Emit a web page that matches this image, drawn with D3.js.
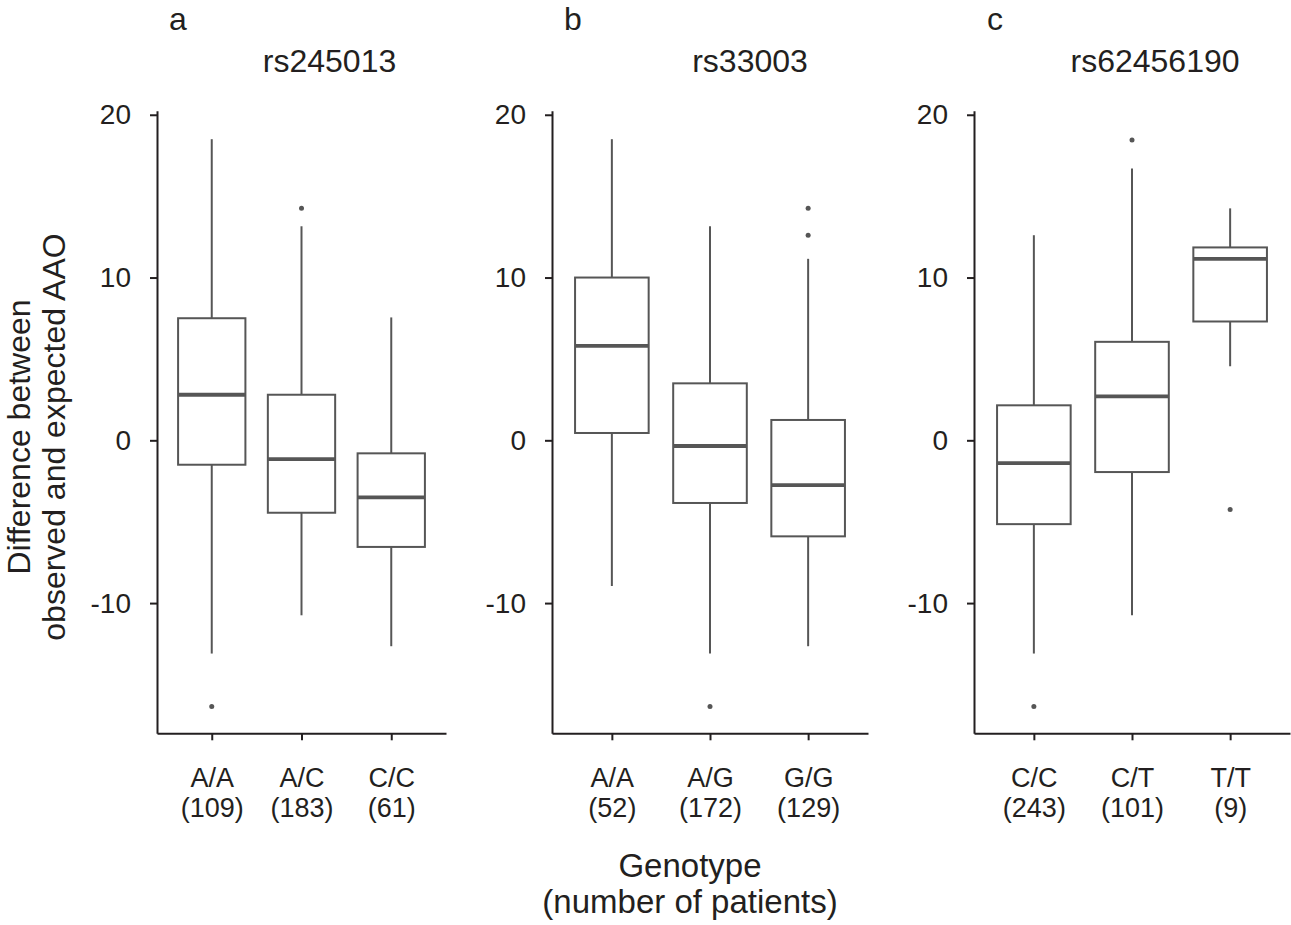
<!DOCTYPE html>
<html>
<head>
<meta charset="utf-8">
<script src="https://cdn.jsdelivr.net/npm/d3@7"></script>
<style>
  body { margin: 0; background: #fff; }
  text { font-family: "Liberation Sans", Arial, sans-serif; fill: #231f20; }
</style>
</head>
<body>
<div id="chart"></div>
<script>
const snps = ["rs245013", "rs33003", "rs62456190"];
const letters = ["a", "b", "c"];
const genotypes = [
  ["A/A", "A/C", "C/C"],
  ["A/A", "A/G", "G/G"],
  ["C/C", "C/T", "T/T"]
];
const counts = [
  [109, 183, 61],
  [52, 172, 129],
  [243, 101, 9]
];
// lower whisker, q1, median, q3, upper whisker
const stats = [
  [[-13.1, -1.5, 2.8, 7.5, 18.5], [-10.75, -4.45, -1.15, 2.8, 13.15], [-12.65, -6.55, -3.5, -0.8, 7.55]],
  [[-8.95, 0.45, 5.8, 10.0, 18.5], [-13.1, -3.85, -0.35, 3.5, 13.15], [-12.65, -5.9, -2.75, 1.25, 11.15]],
  [[-13.1, -5.15, -1.4, 2.15, 12.6], [-10.75, -1.95, 2.7, 6.05, 16.7], [4.55, 7.3, 11.15, 11.85, 14.25]]
];
const outliers = [
  [[-16.35], [14.25], []],
  [[], [-16.35], [14.25, 12.6]],
  [[-16.35], [18.45], [-4.25]]
];
const yTicks = [-10, 0, 10, 20];

const w = 1291;
const h = 925;
const plotTop = 110.7;
const plotBottom = 733.3;
const panelX = [[157, 446], [552, 868], [974, 1290]];
const titleDx = [28, 40, 23];
const boxColor = "#565656";
const axisColor = "#231f20";

const svg = d3.select("#chart").append("svg").attr("width", w).attr("height", h);

const y = d3.scaleLinear().domain([-18, 20.25]).range([plotBottom, plotTop]);

panelX.forEach((range, i) => {
  const x = d3.scalePoint().domain(genotypes[i]).range(range).padding(0.61);
  const bw = x.step() * 0.75;
  const g = svg.append("g");

  // y axis
  const ya = g
    .append("g")
    .attr("transform", "translate(" + range[0] + ",0)")
    .call(
      d3.axisLeft(y)
        .tickValues(yTicks)
        .tickFormat((d) => String(d))
        .tickSize(7)
        .tickSizeOuter(0)
        .tickPadding(19)
    );
  ya.selectAll("path, line").attr("stroke", axisColor).attr("stroke-width", 2);
  ya.selectAll("text").attr("font-size", 28).attr("font-family", null).attr("fill", axisColor);

  // x axis
  const xa = g
    .append("g")
    .attr("transform", "translate(0," + plotBottom + ")")
    .call(d3.axisBottom(x).tickSize(7).tickSizeOuter(0));
  xa.selectAll("path, line").attr("stroke", axisColor).attr("stroke-width", 2);
  xa.selectAll(".tick text").each(function (d, j) {
    const t = d3.select(this).text(null).attr("y", 54).attr("dy", 0)
      .attr("font-size", 27).attr("font-family", null).attr("fill", axisColor);
    t.append("tspan").attr("x", 0).text(d);
    t.append("tspan").attr("x", 0).attr("dy", 30).text("(" + counts[i][j] + ")");
  });

  // boxes
  genotypes[i].forEach((c, j) => {
    const s = stats[i][j];
    const cx = x(c);
    g.append("line")
      .attr("x1", cx).attr("x2", cx)
      .attr("y1", y(s[3])).attr("y2", y(s[4]))
      .attr("stroke", boxColor).attr("stroke-width", 2);
    g.append("line")
      .attr("x1", cx).attr("x2", cx)
      .attr("y1", y(s[1])).attr("y2", y(s[0]))
      .attr("stroke", boxColor).attr("stroke-width", 2);
    g.append("rect")
      .attr("x", cx - bw / 2)
      .attr("y", y(s[3]))
      .attr("width", bw)
      .attr("height", y(s[1]) - y(s[3]))
      .attr("fill", "#fff")
      .attr("stroke", boxColor)
      .attr("stroke-width", 2);
    g.append("line")
      .attr("x1", cx - bw / 2).attr("x2", cx + bw / 2)
      .attr("y1", y(s[2])).attr("y2", y(s[2]))
      .attr("stroke", boxColor).attr("stroke-width", 3.8);
    g.selectAll(null)
      .data(outliers[i][j])
      .enter()
      .append("circle")
      .attr("cx", cx)
      .attr("cy", (d) => y(d))
      .attr("r", 2.5)
      .attr("fill", boxColor);
  });

  // titles
  g.append("text")
    .attr("x", (range[0] + range[1]) / 2 + titleDx[i])
    .attr("y", 72)
    .attr("text-anchor", "middle")
    .attr("font-size", 32)
    .text(snps[i]);
  g.append("text")
    .attr("x", range[0] + 21)
    .attr("y", 30)
    .attr("text-anchor", "middle")
    .attr("font-size", 32)
    .text(letters[i]);
});

// y axis title
const yt = svg.append("g").attr("transform", "translate(0,437) rotate(-90)");
yt.append("text").attr("y", 30).attr("text-anchor", "middle").attr("font-size", 32)
  .text("Difference between");
yt.append("text").attr("y", 65).attr("text-anchor", "middle").attr("font-size", 32)
  .text("observed and expected AAO");

// x axis title
svg.append("text").attr("x", 690).attr("y", 877).attr("text-anchor", "middle")
  .attr("font-size", 33).text("Genotype");
svg.append("text").attr("x", 690).attr("y", 913).attr("text-anchor", "middle")
  .attr("font-size", 33).text("(number of patients)");
</script>
</body>
</html>
